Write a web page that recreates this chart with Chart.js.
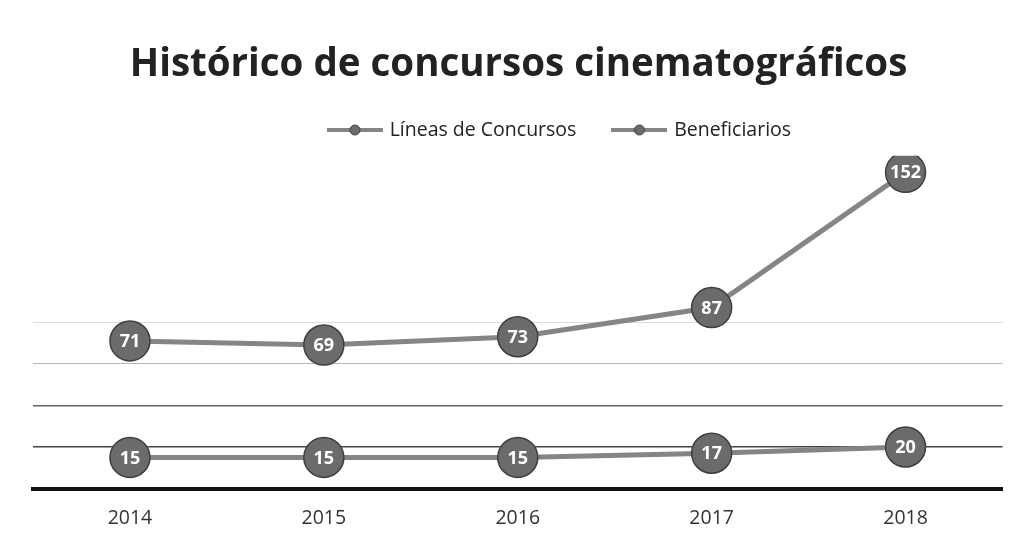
<!DOCTYPE html>
<html>
<head>
<meta charset="utf-8">
<script src="https://cdn.jsdelivr.net/npm/chart.js@4/dist/chart.umd.min.js"></script>
<style>
  html, body { margin: 0; padding: 0; background: #fff; }
  #wrap { width: 1024px; height: 540px; position: relative; }
</style>
</head>
<body>
<div id="wrap"><canvas id="chart"></canvas></div>
<script>
const years = ['2014', '2015', '2016', '2017', '2018'];
const lineasConcursos = [15, 15, 15, 17, 20];
const beneficiarios = [71, 69, 73, 87, 152];

const LINE_COLOR = '#858585';
const POINT_FILL = '#6b6b6b';
const POINT_EDGE = '#3e3e3e';

// small line + circle icon for the legend
function legendIcon() {
    const c = document.createElement('canvas');
    c.width = 56;
    c.height = 12;
    const g = c.getContext('2d');
    g.fillStyle = LINE_COLOR;
    g.fillRect(0, 4, 56, 4);
    g.beginPath();
    g.arc(28, 6, 5, 0, Math.PI * 2);
    g.fillStyle = POINT_FILL;
    g.fill();
    g.strokeStyle = POINT_EDGE;
    g.lineWidth = 1;
    g.stroke();
    return c;
}
const icon = legendIcon();

const valueLabels = {
    id: 'valueLabels',
    afterDatasetsDraw(chart) {
        const { ctx } = chart;
        ctx.save();
        ctx.font = "bold 18px 'Open Sans', sans-serif";
        ctx.fillStyle = '#ffffff';
        ctx.textAlign = 'center';
        ctx.textBaseline = 'middle';
        chart.data.datasets.forEach((ds, i) => {
            chart.getDatasetMeta(i).data.forEach((pt, j) => {
                ctx.fillText(String(ds.data[j]), pt.x, pt.y + 1);
            });
        });
        ctx.restore();
    }
};

// legend pulled up a bit and shifted right of centre
const legendTweak = {
    id: 'legendTweak',
    beforeInit(chart) {
        const lg = chart.legend;
        const fit = lg.fit;
        lg.fit = function () {
            fit.call(this);
            this.height -= 2;
        };
    },
    afterLayout(chart) {
        const lg = chart.legend;
        lg.left += 42;
        lg.right += 42;
        lg.top -= 8;
        lg.bottom -= 8;
    }
};

function seriesStyle(label, data) {
    return {
        label: label,
        data: data,
        borderColor: LINE_COLOR,
        borderWidth: 5,
        pointRadius: 20,
        pointBackgroundColor: POINT_FILL,
        pointBorderColor: POINT_EDGE,
        pointBorderWidth: 1.5,
        pointStyle: 'circle',
        tension: 0,
        fill: false
    };
}

new Chart(document.getElementById('chart'), {
    type: 'line',
    data: {
        labels: years,
        datasets: [
            seriesStyle('Líneas de Concursos', lineasConcursos),
            seriesStyle('Beneficiarios', beneficiarios)
        ]
    },
    options: {
        responsive: true,
        maintainAspectRatio: false,
        animation: false,
        layout: { padding: { left: 33, right: 20, top: 42, bottom: 0 } },
        plugins: {
            title: {
                display: true,
                text: 'Histórico de concursos cinematográficos',
                color: '#222',
                font: { family: "'Open Sans', sans-serif", size: 38.5, weight: 'bold' },
                padding: { top: 0, bottom: 2 }
            },
            legend: {
                position: 'top',
                labels: {
                    usePointStyle: true,
                    pointStyleWidth: 50,
                    color: '#222',
                    font: { family: "'Open Sans', sans-serif", size: 19.5 },
                    padding: 38,
                    generateLabels(chart) {
                        return chart.data.datasets.map((ds, i) => ({
                            text: ds.label,
                            pointStyle: icon,
                            fillStyle: POINT_FILL,
                            strokeStyle: POINT_EDGE,
                            lineWidth: 0,
                            hidden: false,
                            datasetIndex: i,
                            fontColor: '#222'
                        }));
                    }
                }
            },
            tooltip: { enabled: false }
        },
        scales: {
            x: {
                offset: true,
                grid: { display: false },
                border: { display: true, color: '#111', width: 4 },
                ticks: {
                    color: '#333',
                    font: { family: "'Open Sans', sans-serif", size: 19.5 },
                    padding: 10
                }
            },
            y: {
                min: 0,
                max: 160,
                ticks: { display: false, stepSize: 20 },
                border: { display: false },
                grid: {
                    drawTicks: false,
                    lineWidth: ctx => (ctx.tick && ctx.tick.value <= 40 ? 1.5 : 1),
                    color: ctx => {
                        const v = ctx.tick ? ctx.tick.value : 0;
                        if (v === 20) return '#444';
                        if (v === 40) return '#666';
                        if (v === 60) return '#b5b5b5';
                        if (v === 80) return '#dcdcdc';
                        return 'rgba(0,0,0,0)';
                    }
                }
            }
        }
    },
    plugins: [valueLabels, legendTweak]
});
</script>
</body>
</html>
